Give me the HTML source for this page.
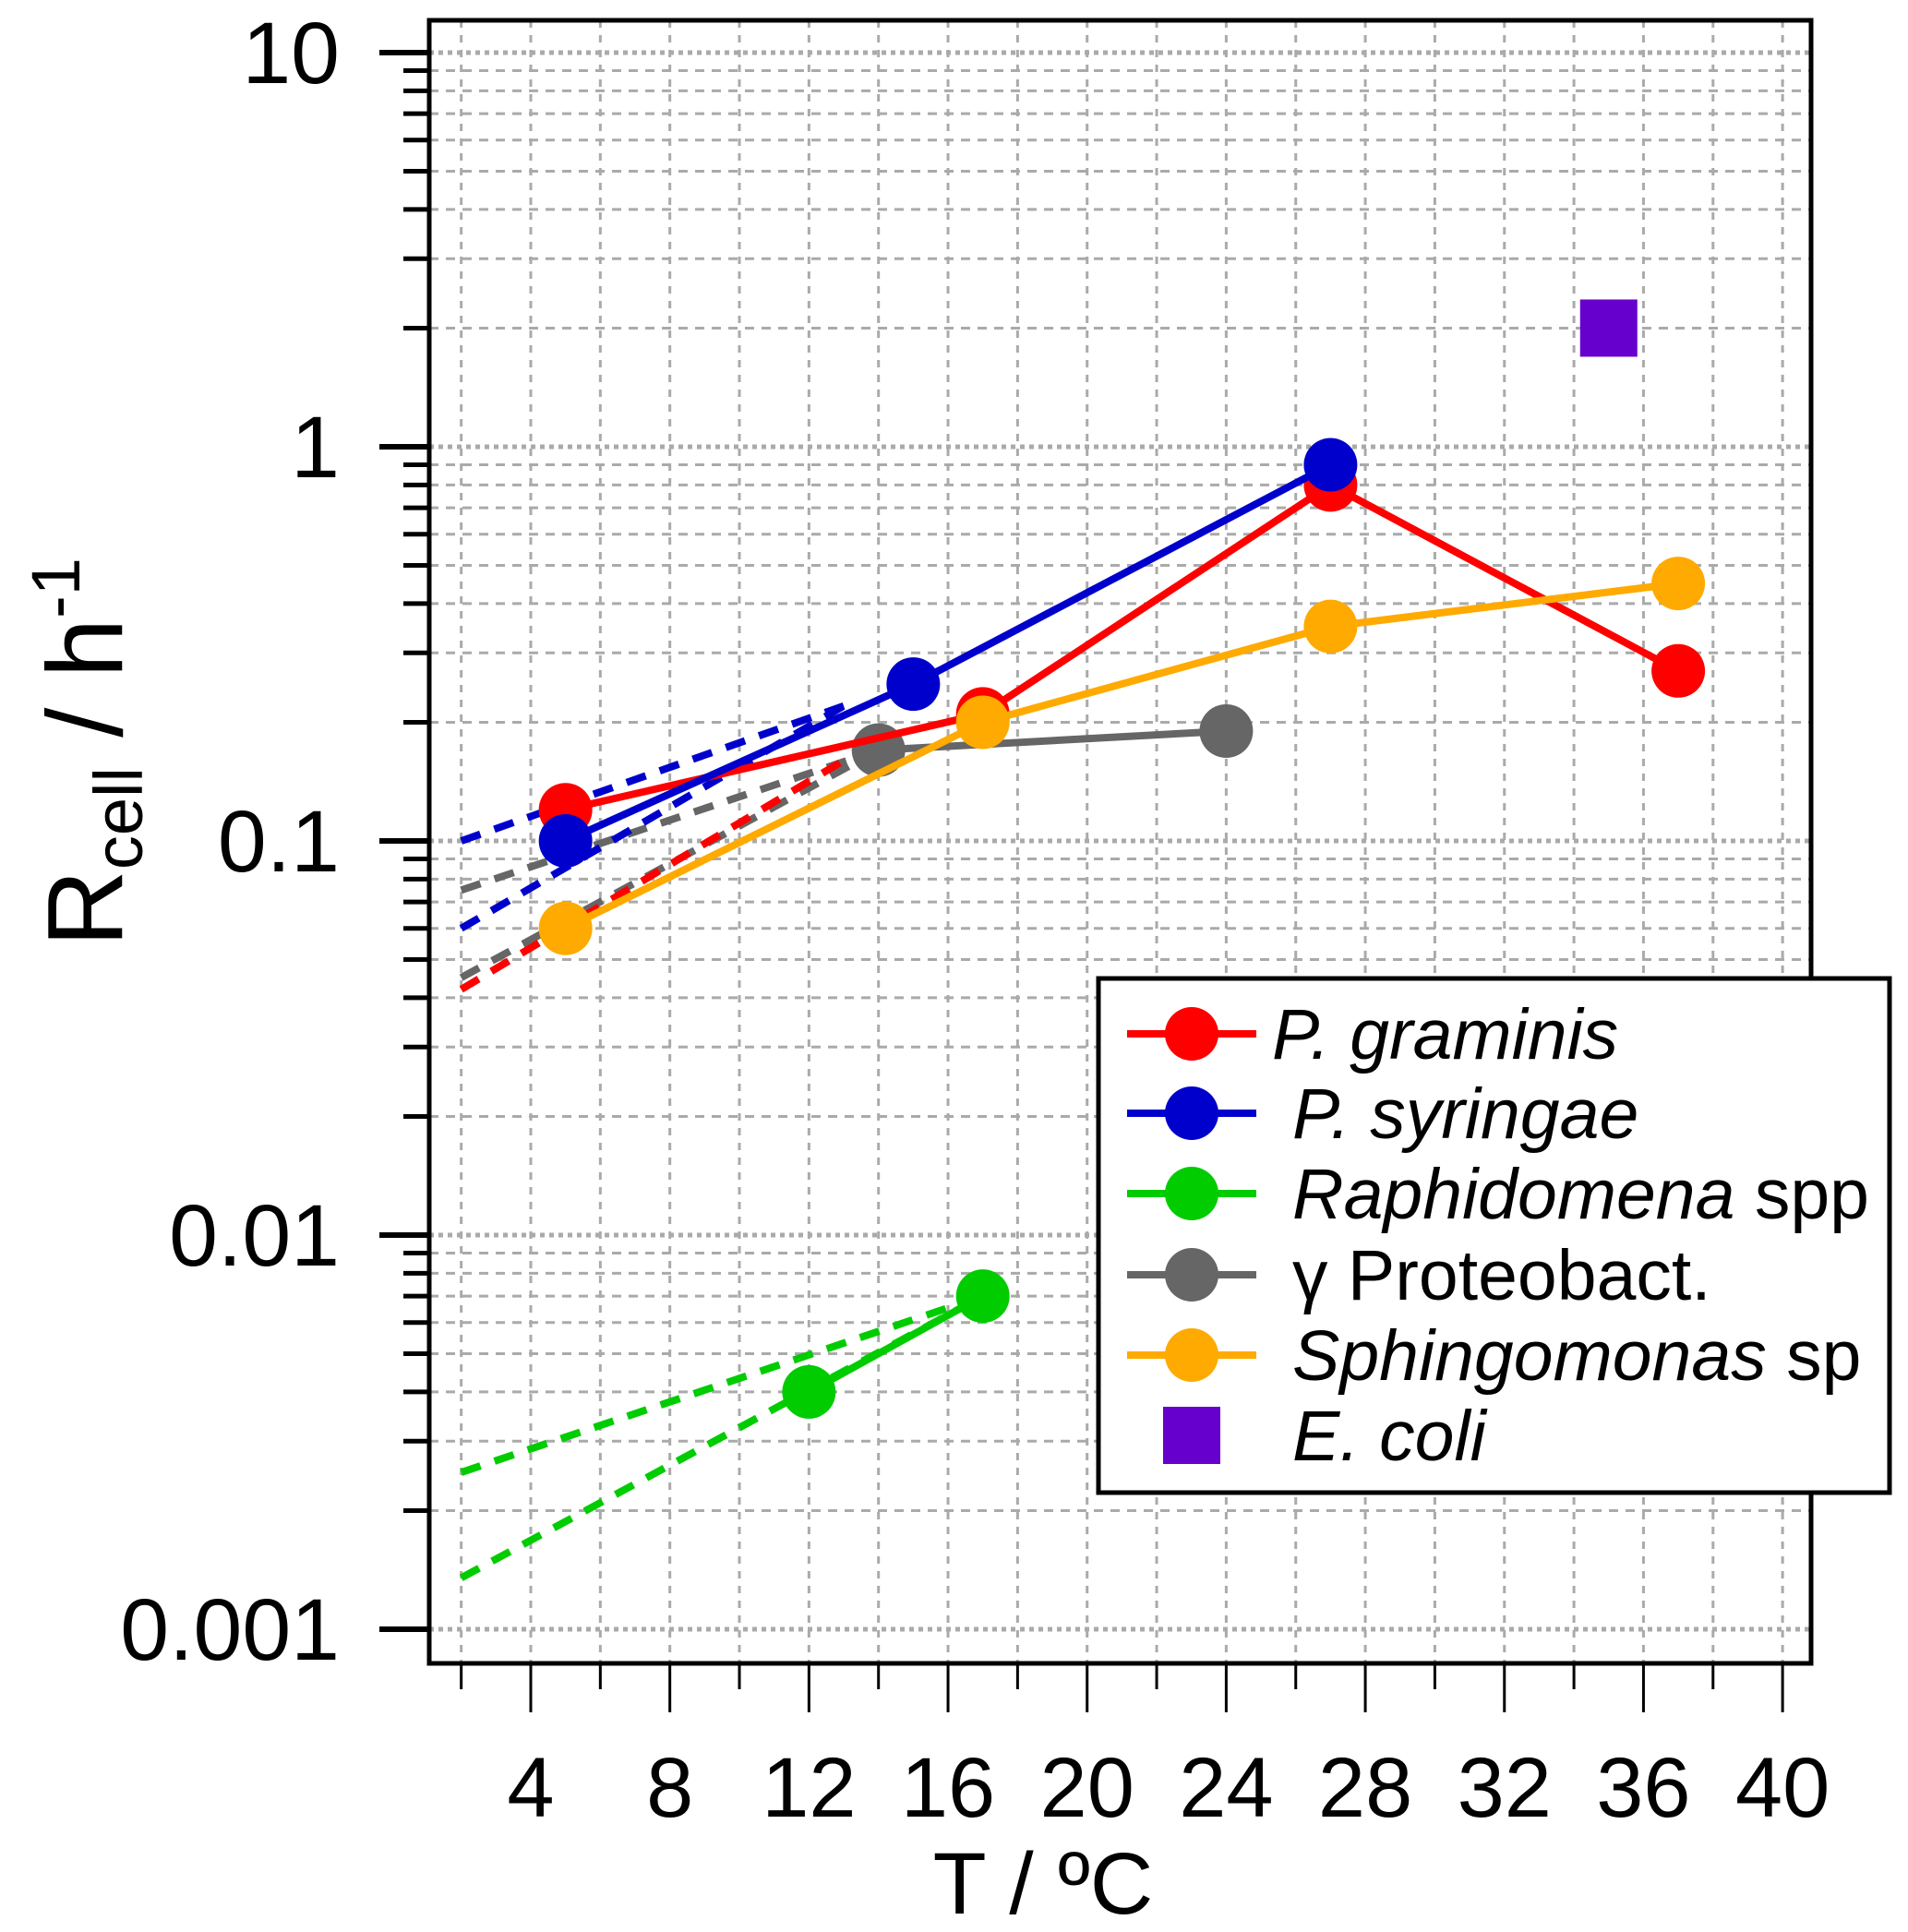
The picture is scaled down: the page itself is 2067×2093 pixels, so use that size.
<!DOCTYPE html>
<html><head><meta charset="utf-8"><style>
html,body{margin:0;padding:0;background:#fff;}
svg{display:block;font-family:"Liberation Sans",Arial,sans-serif;}
</style></head><body>
<svg id="chart" width="2067" height="2093" viewBox="0 0 2067 2093" xmlns="http://www.w3.org/2000/svg">
<g id="grid"></g>
<g id="axes"></g>
<g id="series"></g>
<rect x="465" y="22" width="1497" height="1780" fill="none" stroke="#000" stroke-width="5"/>
<text x="1130" y="2073" font-size="95" text-anchor="middle">T / ºC</text>
<text transform="translate(132,815) rotate(-90)" font-size="116" text-anchor="middle">R<tspan font-size="74" dy="22">cell</tspan><tspan dy="-22"> / h</tspan><tspan font-size="74" dy="-46">-1</tspan></text>
<g id="legend">
<rect x="1190" y="1060" width="857" height="557" fill="#fff" stroke="#000" stroke-width="5"/>
</g>
</svg>
<script>
const xTicks=[4,8,12,16,20,24,28,32,36,40];
const yTickLabels=["10","1","0.1","0.01","0.001"];
const yTickValues=[10,1,0.1,0.01,0.001];
const grT=[5,17,27,37], grV=[0.12,0.21,0.8,0.27];
const syT=[5,15,27], syV=[0.1,0.25,0.9];
const raT=[12,17], raV=[0.004,0.007];
const prT=[14,24], prV=[0.17,0.19];
const spT=[5,17,27,37], spV=[0.06,0.2,0.35,0.45];
const ecT=[35], ecV=[2];
const grFitT=[2,13], grFitV=[0.042,0.16];
const syFit1T=[2,13], syFit1V=[0.1,0.22];
const syFit2T=[2,13], syFit2V=[0.06,0.22];
const prFit1T=[2,14], prFit1V=[0.075,0.17];
const prFit2T=[2,14], prFit2V=[0.045,0.17];
const raFit1T=[2,17], raFit1V=[0.0025,0.007];
const raFit2T=[2,17], raFit2V=[0.00135,0.007];
const legendNames=["P. graminis","P. syringae","Raphidomena","γ Proteobact.","Sphingomonas","E. coli"];
const legendSuffix=["",""," spp",""," sp",""];

const NS="http://www.w3.org/2000/svg";
const X=t=>575+(t-4)*37.67;
const Y=v=>484-427*Math.log10(v);
const L=465,R=1962,T=22,B=1802;
function mk(tag,attrs,parent){const e=document.createElementNS(NS,tag);for(const k in attrs)e.setAttribute(k,attrs[k]);parent.appendChild(e);return e;}
const grid=document.getElementById('grid'),axes=document.getElementById('axes'),ser=document.getElementById('series'),leg=document.getElementById('legend');
for(let t=2;t<=40;t+=2){
  const g=mk('line',{x1:X(t),x2:X(t),y1:T,y2:B,stroke:'#aaa','stroke-width':3,'stroke-dasharray':'8 8'},grid);
  
  
  const major=t%4===0;
  const tk=mk('line',{x1:X(t),x2:X(t),y1:B,y2:major?1855:1830,stroke:'#000','stroke-width':3},axes);
  
  
}
xTicks.forEach(t=>{
  const tx=mk('text',{x:X(t),y:1968,'font-size':92,'text-anchor':'middle'},axes);
  tx.textContent=t;
  
  
});
for(let d=-3;d<=0;d++){
  for(let m=1;m<=10;m++){
    if(m===10&&d<0)continue;
    const v=m*Math.pow(10,d);
    const major=m===1||m===10;
    const g=mk('line',{x1:L,x2:R,y1:Y(v),y2:Y(v),stroke:'#aaa','stroke-width':major?5:3,'stroke-dasharray':major?'5 5':'10 8'},grid);
    
    
    const tk=mk('line',{x1:major?411:437,x2:L,y1:Y(v),y2:Y(v),stroke:'#000','stroke-width':major?6:5},axes);
    
    
  }
}
yTickValues.forEach((v,i)=>{
  const tx=mk('text',{x:368,y:Y(v)+33,'font-size':95,'text-anchor':'end'},axes);
  tx.textContent=yTickLabels[i];
  
  
});
function pts(ts,vs){return ts.map((t,i)=>X(t)+','+Y(vs[i])).join(' ');}
function fit(ts,vs,col,name){
  const p=mk('polyline',{points:pts(ts,vs),fill:'none',stroke:col,'stroke-width':8,'stroke-dasharray':'22 16'},ser);
  
  
}
function series(ts,vs,col,name){
  const p=mk('polyline',{points:pts(ts,vs),fill:'none',stroke:col,'stroke-width':8},ser);
  
  
  ts.forEach((t,i)=>{
    const c=mk('circle',{cx:X(t),cy:Y(vs[i]),r:29,fill:col},ser);
    
    
  });
}
fit(raFit1T,raFit1V,'#00cc00','raphidomena-fit-1');
fit(raFit2T,raFit2V,'#00cc00','raphidomena-fit-2');
fit(prFit1T,prFit1V,'#666','proteobact-fit-1');
fit(prFit2T,prFit2V,'#666','proteobact-fit-2');
fit(syFit1T,syFit1V,'#0000cc','syringae-fit-1');
fit(syFit2T,syFit2V,'#0000cc','syringae-fit-2');
fit(grFitT,grFitV,'#ff0000','graminis-fit');
series(raT,raV,'#00cc00','raphidomena');
series(prT,prV,'#666666','proteobact');
series(grT,grV,'#ff0000','graminis');
series(syT,syV,'#0000cc','syringae');
series(spT,spV,'#ffaa00','sphingomonas');
ecT.forEach((t,i)=>{
  const s=mk('rect',{x:X(t)-31,y:Y(ecV[i])-31,width:62,height:62,fill:'#6600cc'},ser);
  
  
});
const cols=['#ff0000','#0000cc','#00cc00','#666666','#ffaa00','#6600cc'];
const base=[1147,1233,1320,1408,1495,1582];
const italic=[true,true,true,false,true,true];
legendNames.forEach((n,i)=>{
  const cy=base[i]-27;
  if(i<5){
    const ln=mk('line',{x1:1221,x2:1361,y1:cy,y2:cy,stroke:cols[i],'stroke-width':8},leg);
    
    
    const c=mk('circle',{cx:1291,cy:cy,r:29,fill:cols[i]},leg);
    
    
  } else {
    const s=mk('rect',{x:1260,y:cy-31,width:62,height:62,fill:cols[i]},leg);
    
    
  }
  const tx=mk('text',{x:i===0?1378:1400,y:base[i],'font-size':77},leg);
  
  
  const a=mk('tspan',{'font-style':italic[i]?'italic':'normal'},tx);a.textContent=n;
  if(legendSuffix[i]){const b=mk('tspan',{},tx);b.textContent=legendSuffix[i];}
});
</script>
</body></html>
